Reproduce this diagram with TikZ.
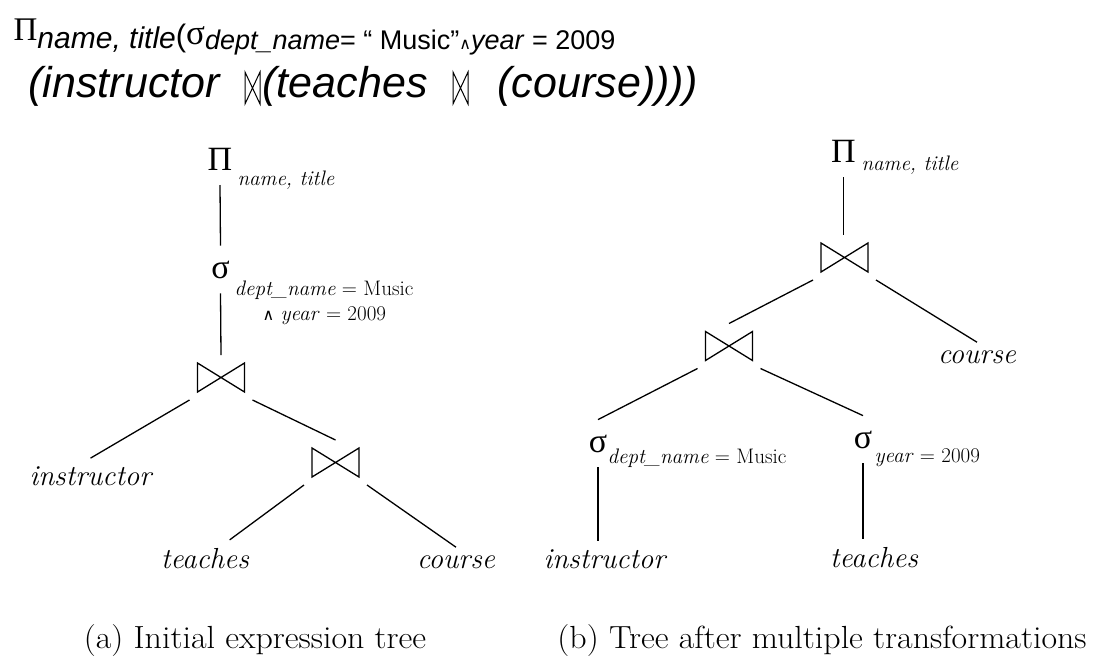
\documentclass[tikz,border=0pt]{standalone}
\usepackage{fontspec}
\newfontfamily\arialfont{Liberation Sans}
\newfontfamily\timesfont{Liberation Serif}
\newfontfamily\symbfont{DejaVu Sans}
\usetikzlibrary{positioning}

\begin{document}
\begin{tikzpicture}[x=1pt,y=-1pt,line width=1.3pt,
	lbl/.style={font=\fontsize{29}{34}\selectfont\itshape,inner sep=0pt,outer sep=8pt,anchor=base},
	op/.style={font=\timesfont\fontsize{34}{40}\selectfont,inner sep=0pt,outer sep=15pt,anchor=base},
	sub/.style={font=\fontsize{21}{25}\selectfont,inner sep=0pt,anchor=base west},
	joinbox/.style={minimum width=47pt,minimum height=29pt,inner sep=0pt,outer sep=8pt},
	captxt/.style={font=\fontsize{32}{38}\selectfont,inner sep=0pt,anchor=base,xscale=1.06},
	expr/.style={font=\arialfont\itshape\fontsize{43}{48}\selectfont,inner sep=0pt,anchor=base west},
	tjoin/.style={minimum width=15pt,minimum height=32pt,inner sep=0pt}]
	\useasboundingbox (0,0) rectangle (1119,662);
	% query expression
	\node[inner sep=0pt,anchor=base west] (line1) at (13,40) {\timesfont\fontsize{33}{33}\selectfont Π\raisebox{-8pt}{\arialfont\itshape\fontsize{30}{30}\selectfont name, title}\raisebox{-6pt}{\arialfont\fontsize{31}{31}\selectfont(}\raisebox{-4pt}{\fontsize{35}{35}\selectfont σ}\raisebox{-9pt}{\arialfont\fontsize{27}{27}\selectfont\textit{dept\_name}= “ Music”{\symbfont\fontsize{16}{16}\selectfont∧}\textit{year} = 2009}};
	\node[expr] (l2a) at (28,97) {(instructor};
	\node[tjoin] (tj1) at (252.5,88) {};
	\node[expr] (l2b) at (262,97) {(teaches};
	\node[tjoin] (tj2) at (460.5,88) {};
	\node[expr] (l2c) at (497,97) {(course))))};
	% (a) initial tree
	\node[op] (pia) at (220,170) {Π};
	\node[sub] at (237,185) {\itshape name, title};
	\node[op] (siga) at (220.5,278) {σ};
	\node[sub] at (234,295) {\textit{dept\_name} = Music};
	\node[sub] at (262,320) {{\symbfont\fontsize{16}{16}\selectfont∧} \textit{year} = 2009};
	\node[joinbox] (ja1) at (221,377.5) {};
	\node[lbl] (insta) at (90.5,485) {instructor};
	\node[joinbox] (ja2) at (335.5,462.5) {};
	\node[lbl] (teacha) at (205,568) {teaches};
	\node[lbl] (coursea) at (456,568) {course};
	\node[captxt] (capa) at (255,648) {(a) Initial expression tree};
	\draw (pia.south) -- (siga.north);
	\draw (siga.south) -- (ja1.north);
	\draw (ja1.south west) -- (insta.north);
	\draw (ja1.south east) -- (ja2.north);
	\draw (ja2.south west) -- (teacha);
	\draw (ja2.south east) -- (coursea.north);
	% (b) transformed tree
	\node[op] (pib) at (843.5,162) {Π};
	\node[sub] at (861,170) {\itshape name, title};
	\node[joinbox] (jb1) at (844.5,257.5) {};
	\node[lbl] (courseb) at (977,363) {course};
	\node[joinbox] (jb2) at (729,346) {};
	\node[op] (sigdb) at (598,452) {σ};
	\node[sub] at (607,463) {\textit{dept\_name} = Music};
	\node[lbl] (instb) at (604.5,568) {instructor};
	\node[op] (sigyb) at (863,448) {σ};
	\node[sub] at (874,462) {\textit{year} = 2009};
	\node[lbl] (teachb) at (874,567) {teaches};
	\node[captxt] (capb) at (822,648) {(b) Tree after multiple transformations};
	\draw (pib.south) -- (pib.south |- jb1.north);
	\draw (jb1.south west) -- (jb2.north);
	\draw (jb1.south east) -- (courseb.north);
	\draw (jb2.south west) -- (sigdb.north);
	\draw (jb2.south east) -- (sigyb.north);
	\draw (sigdb.south) -- (sigdb.south |- instb.north);
	\draw (sigyb.south) -- (sigyb.south |- teachb.north);
	% join symbols
	\foreach \j/\w/\h/\lw in {ja1/23.5/14.5/1.3,ja2/23.5/14.5/1.3,jb1/23.5/14.5/1.3,jb2/23.5/14.5/1.3,tj1/7.5/16/1,tj2/7.5/16/1}
		\draw[line width=\lw pt] ([shift={(-\w,-\h)}]\j.center) -- ([shift={(\w,\h)}]\j.center) -- ([shift={(\w,-\h)}]\j.center) -- ([shift={(-\w,\h)}]\j.center) -- cycle;
\end{tikzpicture}
\end{document}
